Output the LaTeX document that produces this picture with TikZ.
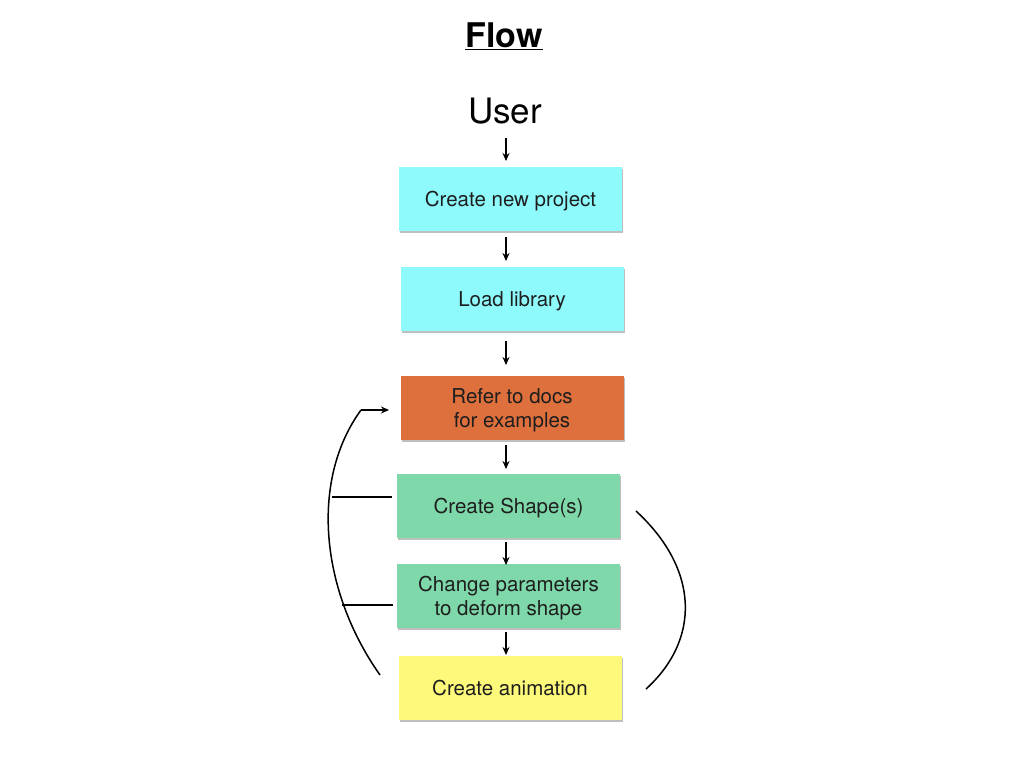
\documentclass[tikz,border=0pt]{standalone}
\usepackage{fontspec}
\setmainfont{TeX Gyre Heros}
\usetikzlibrary{arrows.meta,shadows}
\definecolor{cyanbox}{HTML}{8EFAFC}
\definecolor{orangebox}{HTML}{DE703D}
\definecolor{greenbox}{HTML}{7ED8A9}
\definecolor{yellowbox}{HTML}{FDFA7B}
\definecolor{txt}{HTML}{1E1E1E}
\tikzset{
  box/.style={minimum width=223pt, minimum height=64pt, inner sep=0pt, align=center,
    text=txt, font=\fontsize{20.5}{24}\selectfont, text depth=0pt,
    drop shadow={shadow xshift=1pt, shadow yshift=-2pt, opacity=0.25, fill=black}},
  flow/.style={-{Stealth[length=8pt,width=7pt]}, line width=1.2pt, black},
  loop/.style={line width=1.5pt, black}
}
\begin{document}
\begin{tikzpicture}[x=1pt,y=-1pt]
\fill[white] (0,0) rectangle (1024,768);
\useasboundingbox (0,0) rectangle (1024,768);
\node[font=\bfseries\fontsize{34}{40}\selectfont] (title) at (504,36) {\underline{Flow}};
\node[font=\fontsize{35}{40}\selectfont] (user) at (505,111) {User};
\node[box, fill=cyanbox] (create) at (510.5,199) {Create new project};
\node[box, fill=cyanbox] (load) at (512,299) {Load library};
\node[box, fill=orangebox] (refer) at (512,408) {Refer to docs\\for examples};
\node[box, fill=greenbox] (shape) at (508.5,506) {Create Shape(s)};
\node[box, fill=greenbox] (param) at (508.5,596) {Change parameters\\to deform shape};
\node[box, fill=yellowbox] (anim) at (510,688) {Create animation};
\draw[flow] (506,138) -- (506,161);
\draw[flow] (506,237) -- (506,261);
\draw[flow] (506,341) -- (506,365);
\draw[flow] (506,445) -- (506,469);
\draw[flow] (506,542) -- (506,565);
\draw[flow] (506,632) -- (506,655);
% left loop
\coordinate (lstart) at (380,675);
\coordinate (ltop) at (361,410);
\draw[loop] (lstart) .. controls (320,590) and (310,480) .. (ltop);
\draw[flow, line width=1.5pt] (ltop) -- (389,410);
\draw[loop] (332,497) -- (392,497);
\draw[loop] (342,605) -- (393,605);
% right arc
\coordinate (rstart) at (636,511);
\coordinate (rend) at (646,689);
\draw[loop] (rstart) .. controls (700,570) and (700,640) .. (rend);
\end{tikzpicture}
\end{document}
